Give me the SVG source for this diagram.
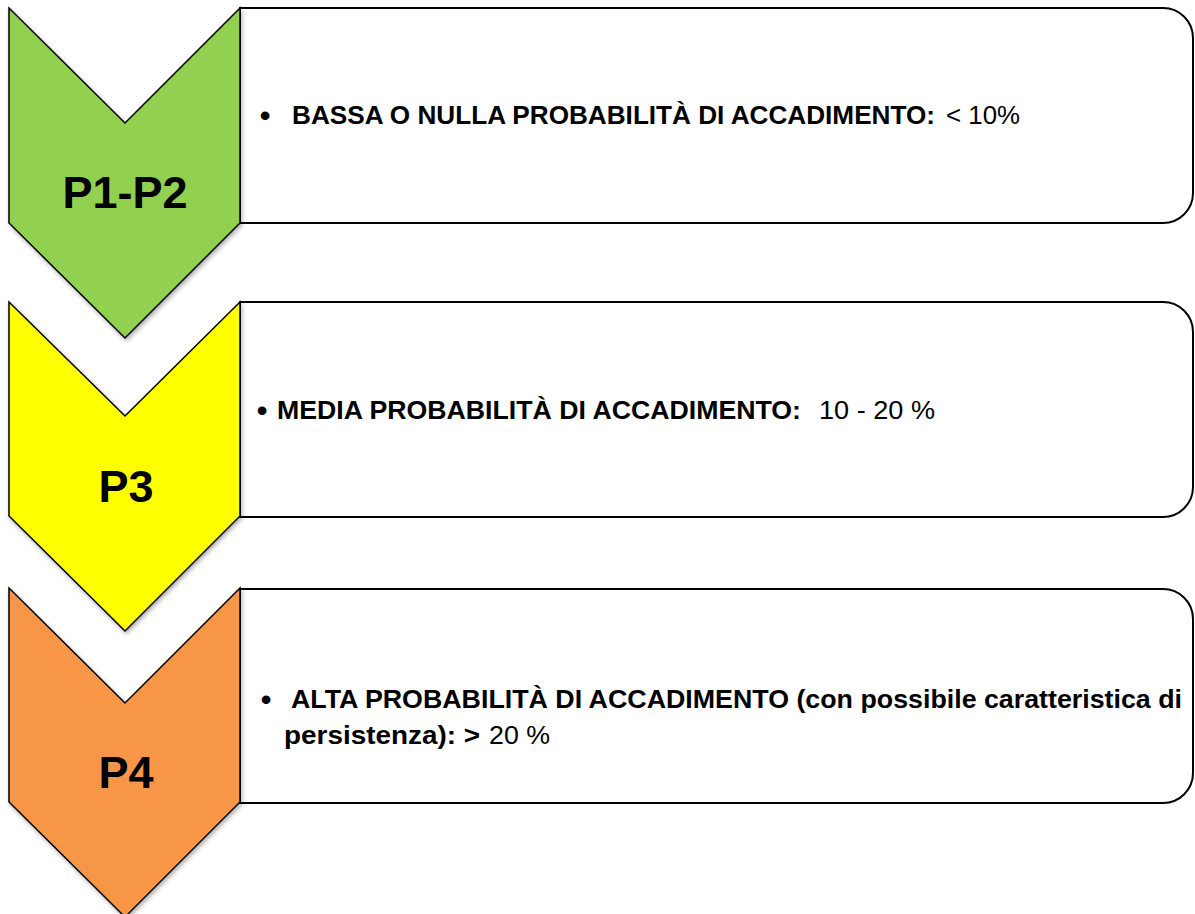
<svg xmlns="http://www.w3.org/2000/svg" width="1195" height="914" viewBox="0 0 1195 914">
<defs>
<filter id="sh" x="-10%" y="-10%" width="130%" height="130%">
<feDropShadow dx="1.5" dy="2.5" stdDeviation="2" flood-color="#000" flood-opacity="0.3"/>
</filter>
</defs>
<style>
.box{fill:#fff;stroke:#000;stroke-width:2}
.chev{stroke:#000;stroke-width:1.5;stroke-linejoin:miter;filter:url(#sh)}
.lbl{font-family:"Liberation Sans",Arial,sans-serif;font-weight:bold;font-size:45px;text-anchor:middle;fill:#000}
.b{font-family:"Liberation Sans",Arial,sans-serif;font-weight:bold;font-size:26px;fill:#000}
.r{font-family:"Liberation Sans",Arial,sans-serif;font-size:26px;fill:#000}
.bul{font-family:"Liberation Sans",Arial,sans-serif;font-size:32px;text-anchor:middle;fill:#000}
</style>
<rect width="1195" height="914" fill="#fff"/>
<g id="row1">
<path class="box" d="M240,8 H1163 A30,30 0 0 1 1193,38 V193 A30,30 0 0 1 1163,223 H240 Z"/>
<path class="chev" fill="#92D050" d="M9,8 L125,123 L240,8 L240,223 L125,338 L9,223 Z"/>
<text class="lbl" x="125" y="208">P1-P2</text>
<text class="bul" x="265" y="126">•</text>
<text class="b" x="292" y="124" textLength="643" lengthAdjust="spacingAndGlyphs">BASSA O NULLA PROBABILITÀ DI ACCADIMENTO:</text>
<text class="r" x="946" y="124" textLength="74" lengthAdjust="spacingAndGlyphs">&lt; 10%</text>
</g>
<g id="row2">
<path class="box" d="M240,302 H1163 A30,30 0 0 1 1193,332 V487 A30,30 0 0 1 1163,517 H240 Z"/>
<path class="chev" fill="#FFFF00" d="M9,302 L125,416 L240,302 L240,516 L125,631 L9,516 Z"/>
<text class="lbl" x="126" y="502">P3</text>
<text class="bul" x="262" y="421">•</text>
<text class="b" x="277" y="419" textLength="524" lengthAdjust="spacingAndGlyphs">MEDIA PROBABILITÀ DI ACCADIMENTO:</text>
<text class="r" x="819" y="419" textLength="116" lengthAdjust="spacingAndGlyphs">10 - 20 %</text>
</g>
<g id="row3">
<path class="box" d="M240,589 H1163 A30,30 0 0 1 1193,619 V773 A30,30 0 0 1 1163,803 H240 Z"/>
<path class="chev" fill="#F79646" d="M9,588 L125,703 L240,588 L240,802 L125,917 L9,802 Z"/>
<text class="lbl" x="126" y="788">P4</text>
<text class="bul" x="266" y="710">•</text>
<text class="b" x="291" y="708" textLength="891" lengthAdjust="spacingAndGlyphs">ALTA PROBABILITÀ DI ACCADIMENTO (con possibile caratteristica di</text>
<text class="b" x="284" y="744" textLength="196" lengthAdjust="spacingAndGlyphs">persistenza):  &gt;</text>
<text class="r" x="489" y="744" textLength="61" lengthAdjust="spacingAndGlyphs">20 %</text>
</g>
</svg>
